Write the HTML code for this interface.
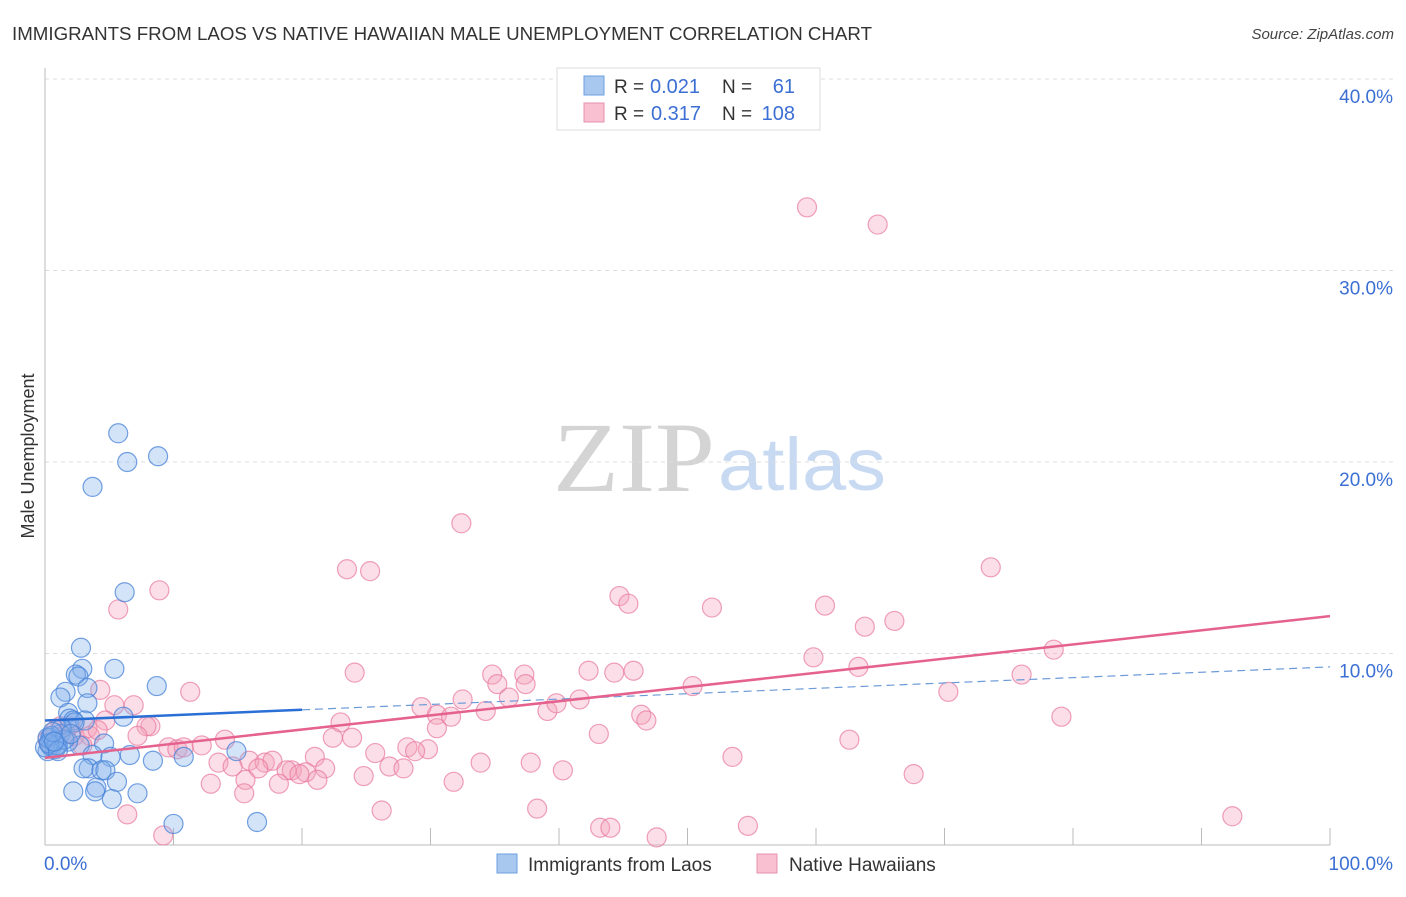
<!DOCTYPE html>
<html><head><meta charset="utf-8"><style>
body{margin:0;background:#fff;font-family:"Liberation Sans",sans-serif;}
svg text{font-family:"Liberation Sans",sans-serif;}
svg text.serif{font-family:"Liberation Serif",serif;}
</style></head><body>
<svg id="chart" width="1406" height="892" viewBox="0 0 1406 892" xmlns="http://www.w3.org/2000/svg">
<text x="12" y="40" font-size="18" fill="#333" textLength="860" lengthAdjust="spacingAndGlyphs">IMMIGRANTS FROM LAOS VS NATIVE HAWAIIAN MALE UNEMPLOYMENT CORRELATION CHART</text>
<text x="1394" y="39" font-size="15" fill="#444" text-anchor="end" font-style="italic">Source: ZipAtlas.com</text>
<g>
<text class="serif" x="553" y="491" font-size="100" fill="#d4d4d4" textLength="162" lengthAdjust="spacingAndGlyphs">ZIP</text>
<text x="718" y="490" font-size="74" fill="#c8daf2" textLength="168" lengthAdjust="spacingAndGlyphs">atlas</text>
</g>
<g id="grid"></g>
<g id="axes"></g>
<g id="pts"></g>
<g id="trend"></g>
<text transform="translate(34,456) rotate(-90)" font-size="18" fill="#333" text-anchor="middle">Male Unemployment</text>
<g>
<rect x="557" y="68" width="263" height="62" fill="#fff" stroke="#ddd"/>
<rect x="584" y="76" width="20" height="19" fill="#a8c8f0" stroke="#6d9ee0"/>
<rect x="584" y="103" width="20" height="19" fill="#f8c0d0" stroke="#e890ac"/>
<text x="614" y="93" font-size="19" fill="#333">R =</text>
<text x="650" y="93" font-size="20" fill="#3b6fd4">0.021</text>
<text x="722" y="93" font-size="19" fill="#333">N =</text>
<text x="795" y="93" font-size="20" fill="#3b6fd4" text-anchor="end">61</text>
<text x="614" y="120" font-size="19" fill="#333">R =</text>
<text x="651" y="120" font-size="20" fill="#3b6fd4">0.317</text>
<text x="722" y="120" font-size="19" fill="#333">N =</text>
<text x="795" y="120" font-size="20" fill="#3b6fd4" text-anchor="end">108</text>
</g>
<g>
<rect x="497" y="854" width="20" height="19" fill="#a8c8f0" stroke="#6d9ee0"/>
<text x="528" y="871" font-size="19" fill="#333">Immigrants from Laos</text>
<rect x="757" y="854" width="20" height="19" fill="#f8c0d0" stroke="#e890ac"/>
<text x="789" y="871" font-size="19" fill="#333">Native Hawaiians</text>
</g>
</svg>
<script>
const yTicks=[10,20,30,40];
const yTickLabels=["10.0%","20.0%","30.0%","40.0%"];
const xEndLabels=["0.0%","100.0%"];
const blueX=[5.7,6.4,8.8,3.7,6.2,2.8,5.4,2.9,2.4,2.6,8.7,1.6,3.3,1.2,1.8,3.3,6.1,1.9,3.1,2.2,2.3,1.2,0.4,0.8,0.5,0.2,4.6,2.7,1.8,3.7,5.1,6.6,8.4,10.8,14.9,3.4,3.0,4.4,4.7,5.6,4.0,2.2,3.9,5.2,7.2,10.0,16.5,0.8,0.4,1.0,1.3,0.0,0.2,0.5,0.9,1.5,0.3,2.0,1.0,0.6,0.7];
const blueY=[21.5,20.0,20.3,18.7,13.2,10.3,9.2,9.2,8.9,8.8,8.3,8.0,8.2,7.7,6.9,7.4,6.7,6.6,6.5,6.5,6.4,5.8,5.6,5.4,5.1,4.9,5.3,5.2,5.4,4.7,4.6,4.7,4.4,4.6,4.9,4.0,4.0,3.9,3.9,3.3,3.0,2.8,2.8,2.4,2.7,1.1,1.2,5.0,5.2,5.2,6.1,5.1,5.6,5.7,5.2,5.5,5.3,5.8,4.9,5.9,5.4];
const pinkX=[59.3,64.8,32.4,23.5,25.3,73.6,8.9,44.7,45.4,5.7,51.9,60.7,66.1,63.8,59.8,78.5,24.1,34.8,37.3,42.3,45.8,44.3,63.3,76.0,35.2,36.1,37.4,50.4,11.3,70.3,4.3,32.5,39.1,39.8,41.6,34.3,29.3,30.5,31.6,46.4,46.8,79.1,23.0,5.4,6.9,8.2,7.9,3.3,4.7,1.9,2.3,3.5,7.2,22.4,23.9,30.5,43.1,62.6,9.6,10.3,10.8,12.2,14.0,25.7,28.2,29.8,28.8,21.0,15.9,17.1,17.7,13.5,14.6,16.6,19.2,20.3,21.8,26.8,27.9,33.9,37.8,53.5,18.8,19.8,21.2,15.6,24.8,12.9,18.2,31.8,40.3,67.6,15.5,6.4,26.2,38.3,43.2,44.0,54.7,47.6,9.2,92.4,1.2,1.6,2.9,0.2,0.8,4.1];
const pinkY=[33.3,32.4,16.8,14.4,14.3,14.5,13.3,13.0,12.6,12.3,12.4,12.5,11.7,11.4,9.8,10.2,9.0,8.9,8.9,9.1,9.1,9.0,9.3,8.9,8.4,7.7,8.4,8.3,8.0,8.0,8.1,7.6,7.0,7.4,7.6,7.0,7.2,6.8,6.7,6.8,6.5,6.7,6.4,7.3,7.3,6.2,6.2,6.1,6.5,6.2,5.7,5.7,5.7,5.6,5.6,6.1,5.8,5.5,5.1,5.0,5.1,5.2,5.5,4.8,5.1,5.0,4.9,4.6,4.4,4.3,4.4,4.3,4.1,4.0,3.9,3.8,4.0,4.1,4.0,4.3,4.3,4.6,3.9,3.7,3.4,3.4,3.6,3.2,3.2,3.3,3.9,3.7,2.7,1.6,1.8,1.9,0.9,0.9,1.0,0.4,0.5,1.5,6.2,5.8,5.2,5.5,6.0,6.0];
const blueTrend=[6.5,0.028];
const pinkTrend=[4.55,0.074];
const NS="http://www.w3.org/2000/svg";
const X0=45,X1=1330,Y0=845,YPER=19.15;
const sx=v=>X0+(X1-X0)*v/100;
const sy=v=>Y0-YPER*v;
function mk(tag,attrs,parent){const e=document.createElementNS(NS,tag);for(const k in attrs)e.setAttribute(k,attrs[k]);parent.appendChild(e);return e;}
const grid=document.getElementById('grid'),axes=document.getElementById('axes'),pts=document.getElementById('pts'),trend=document.getElementById('trend');
yTicks.forEach((t,i)=>{
 const l=mk('line',{x1:X0,x2:1394,y1:sy(t),y2:sy(t),stroke:'#ddd','stroke-dasharray':'4,4'},grid);
 
 
 const tx=mk('text',{x:1393,y:sy(t)+24,'font-size':19,fill:'#3b6fd4','text-anchor':'end'},axes);
 tx.textContent=yTickLabels[i];
 
 
});
mk('line',{x1:X0,x2:X0,y1:68,y2:Y0,stroke:'#bbb'},axes);
mk('line',{x1:X0,x2:X1,y1:Y0,y2:Y0,stroke:'#bbb'},axes);
for(let i=0;i<=10;i++){const l=mk('line',{x1:sx(i*10),x2:sx(i*10),y1:Y0,y2:Y0-17,stroke:'#bbb'},axes);
 
 }
const xl0=mk('text',{x:44,y:870,'font-size':19,fill:'#3b6fd4'},axes);xl0.textContent=xEndLabels[0];


const xl1=mk('text',{x:1393,y:870,'font-size':19,fill:'#3b6fd4','text-anchor':'end'},axes);xl1.textContent=xEndLabels[1];


pinkX.forEach((v,i)=>{const c=mk('circle',{cx:sx(v),cy:sy(pinkY[i]),r:9.5,fill:'rgba(244,160,186,0.35)',stroke:'rgba(232,120,158,0.7)','stroke-width':1.2},pts);
 
 });
blueX.forEach((v,i)=>{const c=mk('circle',{cx:sx(v),cy:sy(blueY[i]),r:9.5,fill:'rgba(130,175,235,0.35)',stroke:'rgba(70,130,215,0.75)','stroke-width':1.2},pts);
 
 });
const bt=v=>blueTrend[0]+blueTrend[1]*v, pt=v=>pinkTrend[0]+pinkTrend[1]*v;
const l1=mk('line',{x1:sx(0),y1:sy(bt(0)),x2:sx(20),y2:sy(bt(20)),stroke:'#2a6fd6','stroke-width':2.5},trend);


const l2=mk('line',{x1:sx(20),y1:sy(bt(20)),x2:sx(100),y2:sy(bt(100)),stroke:'#6c9ad8','stroke-width':1.2,'stroke-dasharray':'8,5'},trend);


const l3=mk('line',{x1:sx(0),y1:sy(pt(0)),x2:sx(100),y2:sy(pt(100)),stroke:'#e5628e','stroke-width':2.5},trend);


</script>
</body></html>
